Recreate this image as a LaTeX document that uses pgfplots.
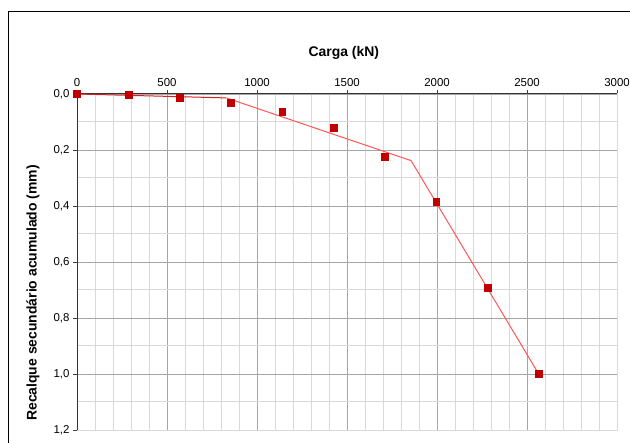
\documentclass[border=0pt]{standalone}
\usepackage{pgfplots}
\pgfplotsset{compat=1.18}
\usepackage{fontspec}
\setmainfont{Liberation Sans}
\definecolor{mk}{HTML}{C00000}
\definecolor{fitl}{HTML}{FF5555}
\definecolor{fitd}{HTML}{D42020}
\definecolor{majg}{HTML}{A6A6A6}
\definecolor{ming}{HTML}{D9D9D9}
\pgfplotstableread{
x y
0 0.000
285 0.003
570 0.014
855 0.032
1140 0.064
1425 0.120
1710 0.225
1995 0.386
2280 0.692
2565 1.000
}\meas
\begin{document}
\begin{tikzpicture}[x=1bp,y=1bp]
\useasboundingbox (0,0) rectangle (630,443);
\draw[black, line width=0.9bp] (8,-20) -- (8,432) -- (660,432);
\begin{axis}[
  at={(77bp,13bp)}, anchor=south west,
  width=540bp, height=336bp, scale only axis,
  xmin=0, xmax=3000, ymin=0, ymax=1.2,
  y dir=reverse,
  xtick={0,500,...,3000},
  ytick={0,0.2,...,1.2},
  minor x tick num=4,
  minor y tick num=1,
  grid=both,
  major grid style={majg, line width=0.8bp},
  minor grid style={ming, line width=1bp},
  minor tick length=0pt,
  major tick length=4bp,
  tick align=outside,
  xtick pos=right, xticklabel pos=right,
  ytick pos=left,
  tick style={black!75, line width=0.8bp},
  axis line style={ming, line width=1bp},
  tick label style={font=\fontsize{11.5}{13}\selectfont, black},
  /pgf/number format/assume math mode=true,
  xticklabel style={/pgf/number format/1000 sep={}, yshift=0bp},
  yticklabel style={/pgf/number format/.cd, use comma, fixed, fixed zerofill, precision=1},
  xlabel={Carga (kN)},
  xlabel style={font=\fontsize{14}{16}\selectfont\bfseries, at={(axis description cs:0.494,1.122)}, anchor=center},
  ylabel={Recalque secundário acumulado (mm)},
  ylabel style={font=\fontsize{14}{16}\selectfont\bfseries, at={(axis description cs:-0.0815,0.408)}, anchor=center, rotate=0},
  clip=false,
]
\draw[black!80, line width=1bp] (axis description cs:0,0) -- (axis description cs:0,1) -- (axis description cs:1,1);
\addplot[fitd, line width=1bp, mark=none] coordinates {(0,0.0) (830,0.014)};
\addplot[fitl, line width=1bp, mark=none] coordinates {(830,0.014) (1856,0.238) (2565,1.0)};
\addplot[only marks, mark=square*, mark size=3.4bp, mk, mark options={draw=mk, fill=mk}] table {\meas};
\end{axis}
\end{tikzpicture}
\end{document}
